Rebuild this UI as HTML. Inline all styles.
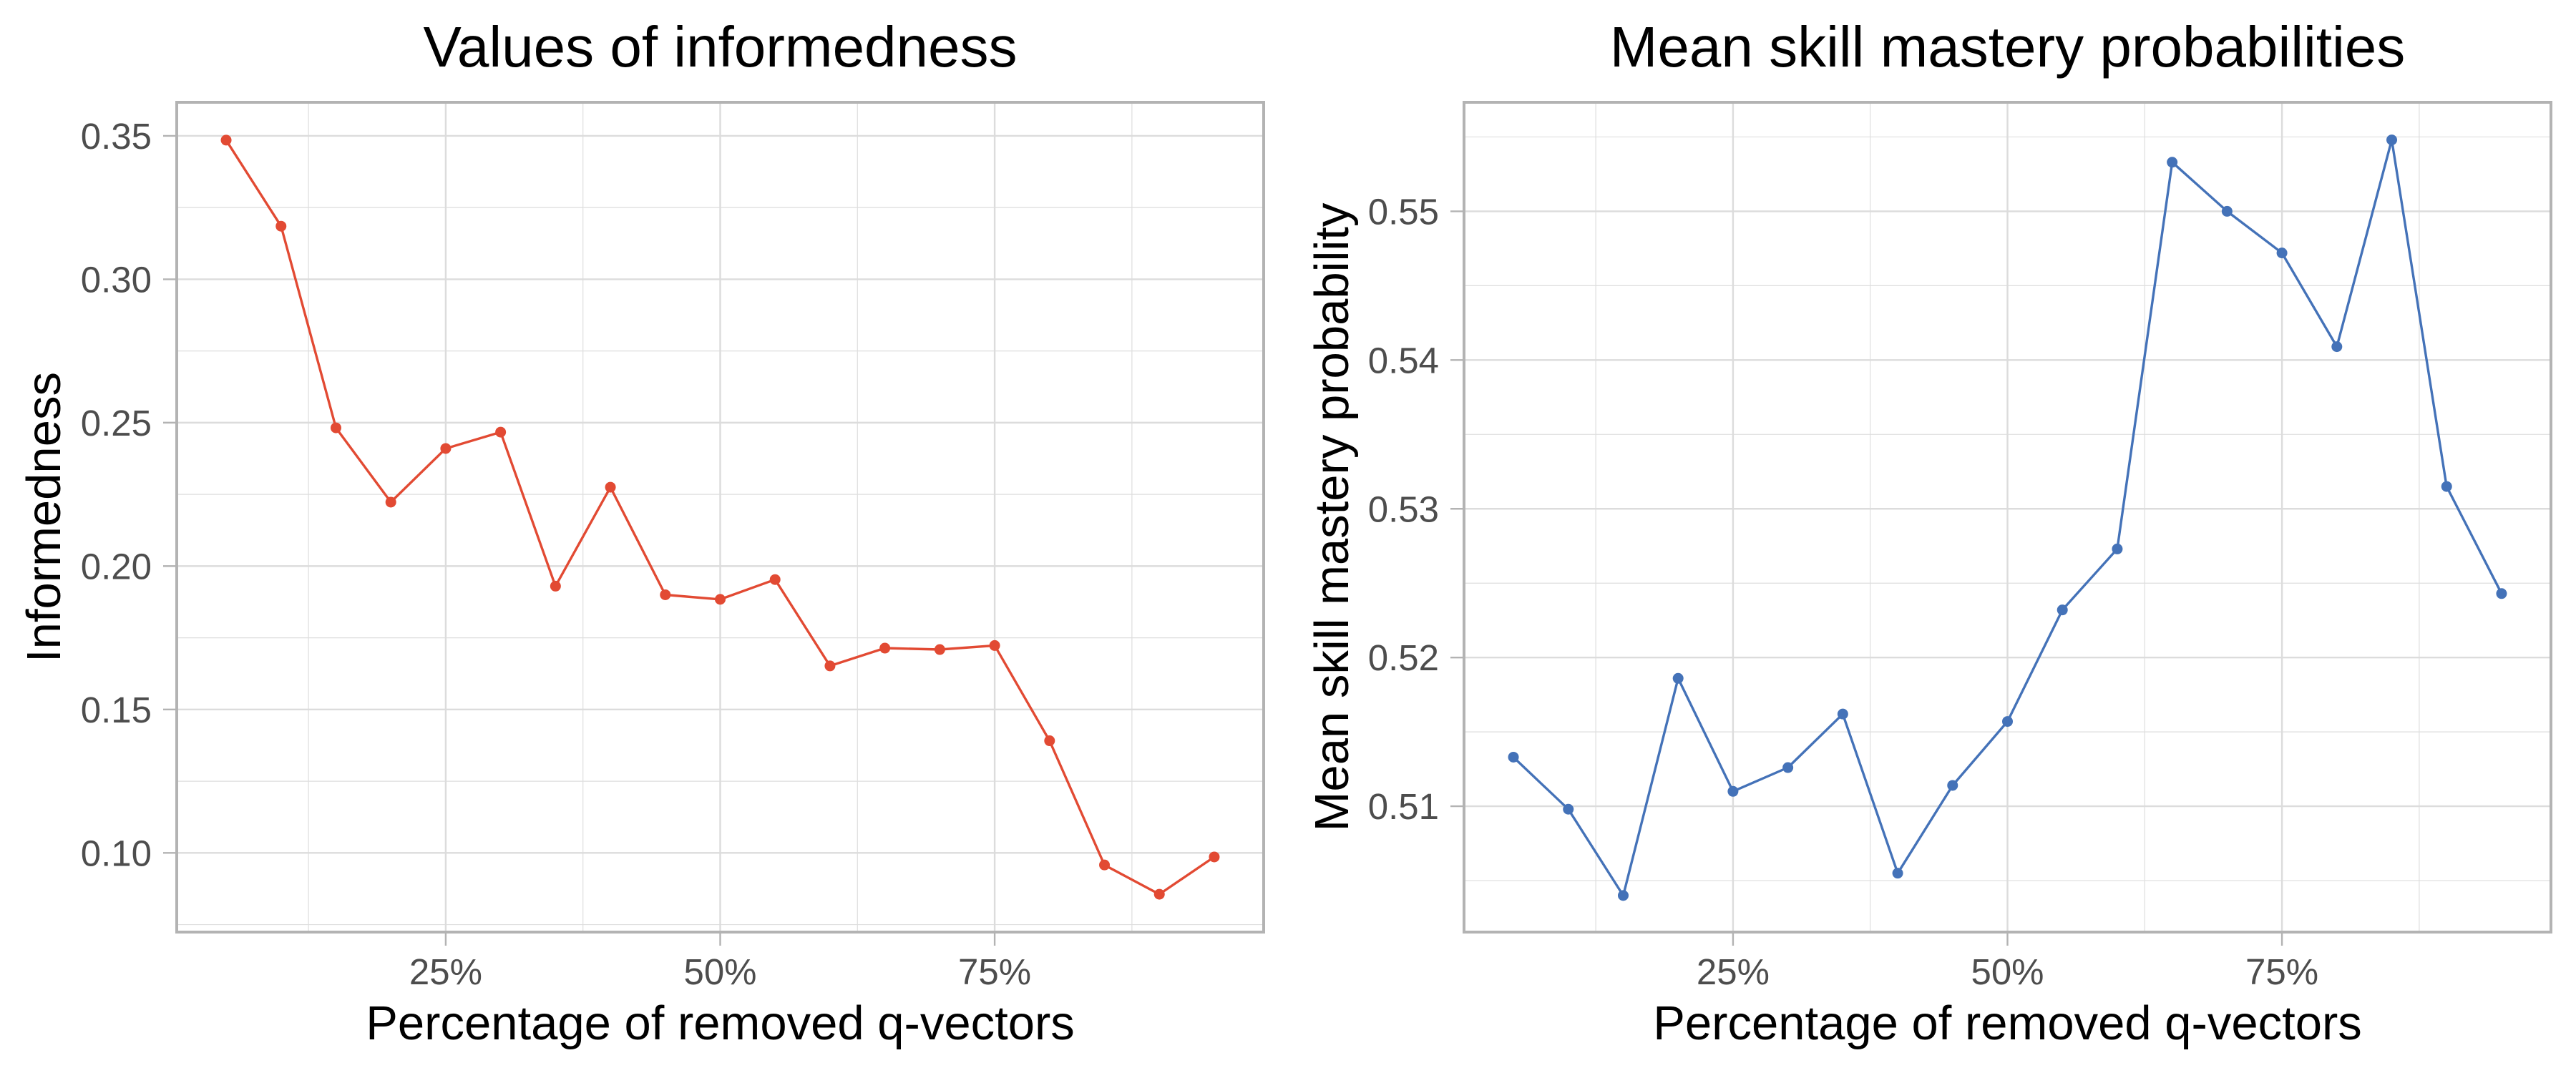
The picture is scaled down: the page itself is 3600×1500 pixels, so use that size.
<!DOCTYPE html>
<html><head><meta charset="utf-8"><style>
html,body{margin:0;padding:0;background:#fff;}
svg{display:block;font-family:"Liberation Sans",Arial,sans-serif;}
</style></head><body>
<svg id="chart" width="3600" height="1500" viewBox="0 0 3600 1500" xmlns="http://www.w3.org/2000/svg"></svg>
<script>
const xPercents = [5,10,15,20,25,30,35,40,45,50,55,60,65,70,75,80,85,90,95];
const informedness = [0.3485,0.3185,0.2482,0.2223,0.2410,0.2467,0.1930,0.2275,0.1900,0.1884,0.1953,0.1652,0.1714,0.1709,0.1723,0.1391,0.0958,0.0856,0.0986];
const masteryProb = [0.5133,0.5098,0.5040,0.5186,0.5110,0.5126,0.5162,0.5055,0.5114,0.5157,0.5232,0.5273,0.5533,0.5500,0.5472,0.5409,0.5548,0.5315,0.5243];
const xTickValues = [25,50,75];
const xTickLabels = ["25%","50%","75%"];
const xMinorTicks = [12.5,37.5,62.5,87.5];
const infTicks = [0.10,0.15,0.20,0.25,0.30,0.35];
const infTickLabels = ["0.10","0.15","0.20","0.25","0.30","0.35"];
const infMinor = [0.075,0.125,0.175,0.225,0.275,0.325];
const mastTicks = [0.51,0.52,0.53,0.54,0.55];
const mastTickLabels = ["0.51","0.52","0.53","0.54","0.55"];
const mastMinor = [0.505,0.515,0.525,0.535,0.545,0.555];

const NS="http://www.w3.org/2000/svg";
const svg=document.getElementById('chart');
function mk(tag,attrs,parent){const e=document.createElementNS(NS,tag);for(const k in attrs)e.setAttribute(k,attrs[k]);(parent||svg).appendChild(e);return e;}

function panel(opt){
  const L=opt.left,R=opt.right,T=143,B=1303;
  const g=mk('g',{});
  
  
  const xs=v=>L+(v-0.5)/(99.5-0.5)*(R-L);
  const ys=v=>B-(v-opt.ymin)/(opt.ymax-opt.ymin)*(B-T);
  // minor grid
  opt.yMinor.forEach(v=>{const l=mk('line',{x1:L,x2:R,y1:ys(v),y2:ys(v),stroke:'#dedede','stroke-width':1.2},g);
    
    });
  xMinorTicks.forEach(v=>{const l=mk('line',{x1:xs(v),x2:xs(v),y1:T,y2:B,stroke:'#dedede','stroke-width':1.2},g);
    
    });
  // major grid + ticks
  opt.yTicks.forEach((v,i)=>{
    const l=mk('line',{x1:L,x2:R,y1:ys(v),y2:ys(v),stroke:'#dcdcdc','stroke-width':2.4},g);
    
    
    const tk=mk('line',{x1:L-19,x2:L,y1:ys(v),y2:ys(v),stroke:'#b3b3b3','stroke-width':2.4},g);
    
    
    const t=mk('text',{x:L-35,y:ys(v)+18,'text-anchor':'end','font-size':51,fill:'#4d4d4d'},g);
    t.textContent=opt.yLabels[i];
    
    
  });
  xTickValues.forEach((v,i)=>{
    const l=mk('line',{x1:xs(v),x2:xs(v),y1:T,y2:B,stroke:'#dcdcdc','stroke-width':2.4},g);
    
    
    const tk=mk('line',{x1:xs(v),x2:xs(v),y1:B,y2:B+19,stroke:'#b3b3b3','stroke-width':2.4},g);
    
    
    const t=mk('text',{x:xs(v),y:1376,'text-anchor':'middle','font-size':51,fill:'#4d4d4d'},g);
    t.textContent=xTickLabels[i];
    
    
  });
  // series
  const pts=xPercents.map((x,i)=>xs(x).toFixed(1)+','+ys(opt.values[i]).toFixed(1)).join(' ');
  const pl=mk('polyline',{points:pts,fill:'none',stroke:opt.color,'stroke-width':3.4,'stroke-linejoin':'round'},g);
  
  
  xPercents.forEach((x,i)=>{
    const c=mk('circle',{cx:xs(x),cy:ys(opt.values[i]),r:7.5,fill:opt.color},g);
    
    
  });
  // border
  const b=mk('rect',{x:L,y:T,width:R-L,height:B-T,fill:'none',stroke:'#b3b3b3','stroke-width':4},g);
  
  
  // titles
  const tt=mk('text',{x:(L+R)/2,y:93,'text-anchor':'middle','font-size':80,fill:'#000'},g);
  tt.textContent=opt.title;
  
  
  const xt=mk('text',{x:(L+R)/2,y:1453,'text-anchor':'middle','font-size':67,fill:'#000'},g);
  xt.textContent='Percentage of removed q-vectors';
  
  
  const yt=mk('text',{x:0,y:0,'text-anchor':'middle','font-size':67,fill:'#000',transform:'translate('+opt.yTitleX+','+((T+B)/2)+') rotate(-90)'},g);
  yt.textContent=opt.yTitle;
  
  
}

panel({name:'informedness-panel',left:247,right:1766,ymin:0.0724,ymax:0.3617,yTicks:infTicks,yLabels:infTickLabels,yMinor:infMinor,
  values:informedness,color:'#e24a33',seriesName:'informedness',title:'Values of informedness',yTitle:'Informedness',yTitleX:84});
panel({name:'mastery-panel',left:2046,right:3565,ymin:0.50154,ymax:0.55733,yTicks:mastTicks,yLabels:mastTickLabels,yMinor:mastMinor,
  values:masteryProb,color:'#4472b8',seriesName:'mastery',title:'Mean skill mastery probabilities',yTitle:'Mean skill mastery probability',yTitleX:1884});
</script>
</body></html>
